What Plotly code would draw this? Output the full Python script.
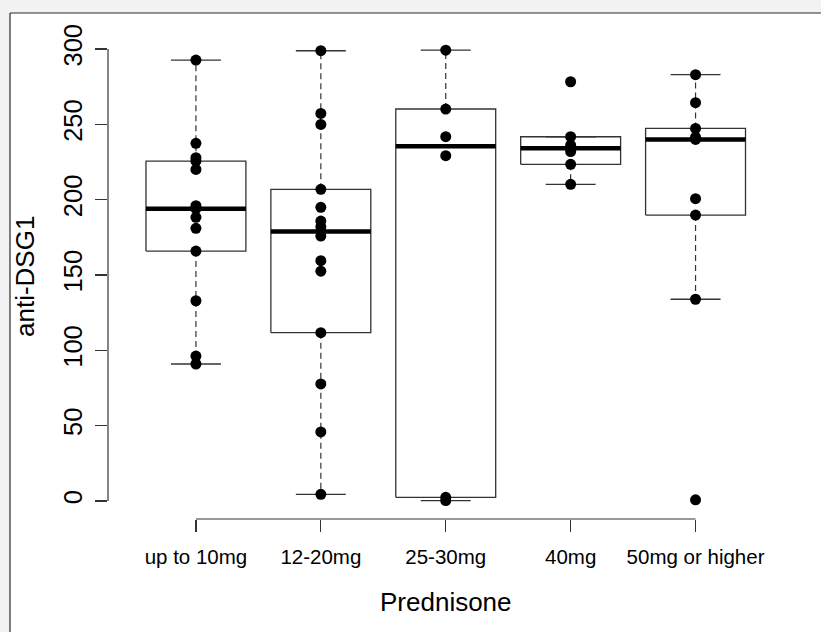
import numpy as np
import plotly.graph_objects as go

# ---------------- data ----------------
categories = ["up to 10mg", "12-20mg", "25-30mg", "40mg", "50mg or higher"]
dose_up_to_10 = [292.7, 237.4, 227.9, 225.6, 220.1, 196.0, 194.0, 188.3, 181.0, 165.9, 132.9, 96.2, 90.9]
dose_12_20 = [298.9, 257.3, 250.0, 206.9, 194.9, 185.8, 182.0, 175.9, 159.5, 152.5, 111.7, 77.7, 45.8, 4.4]
dose_25_30 = [299.3, 260.2, 241.8, 229.2, 2.4, 0.2]
dose_40 = [278.3, 241.8, 236.2, 232.0, 223.5, 210.2]
dose_50_plus = [283.0, 264.4, 247.3, 241.5, 240.0, 200.7, 189.8, 133.9, 0.7]
groups = [dose_up_to_10, dose_12_20, dose_25_30, dose_40, dose_50_plus]
y_ticks = [0, 50, 100, 150, 200, 250, 300]
x_title = "Prednisone"
y_title = "anti-DSG1"

# ---------------- layout geometry (pixels) ----------------
W, H = 821, 632
ML, MR, MT, MB = 108, 63, 31, 113
PW, PH = W - ML - MR, H - MT - MB
FONT = "Liberation Sans, Arial, Helvetica, sans-serif"
LINE = "#333333"
OUTER = "#f2f2f2"


def px_to_paper_x(px):
    return (px - ML) / PW


def px_to_paper_y(py):
    return (H - MB - py) / PH


def tukey_stats(vals):
    v = np.sort(np.asarray(vals, dtype=float))
    n = len(v)
    half = (n + 1) // 2
    q1 = float(np.median(v[:half]))
    q3 = float(np.median(v[n - half:]))
    med = float(np.median(v))
    iqr = q3 - q1
    lo = float(v[v >= q1 - 1.5 * iqr].min())
    hi = float(v[v <= q3 + 1.5 * iqr].max())
    return q1, med, q3, lo, hi


positions = list(range(1, len(categories) + 1))
box_half = 0.4
staple_half = 0.2

fig = go.Figure()

wx, wy, sx, sy, bx, by, mx, my = [], [], [], [], [], [], [], []
for p, vals in zip(positions, groups):
    q1, med, q3, lo, hi = tukey_stats(vals)
    wx += [p, p, None, p, p, None]
    wy += [q3, hi, None, q1, lo, None]
    sx += [p - staple_half, p + staple_half, None, p - staple_half, p + staple_half, None]
    sy += [hi, hi, None, lo, lo, None]
    bx += [p - box_half, p + box_half, p + box_half, p - box_half, p - box_half, None]
    by += [q1, q1, q3, q3, q1, None]
    mx += [p - box_half, p + box_half, None]
    my += [med, med, None]

fig.add_trace(go.Scatter(x=wx, y=wy, mode="lines", hoverinfo="skip",
                         line=dict(color=LINE, width=1.2, dash="6px,4px")))
fig.add_trace(go.Scatter(x=sx, y=sy, mode="lines", hoverinfo="skip",
                         line=dict(color=LINE, width=1.3)))
fig.add_trace(go.Scatter(x=bx, y=by, mode="lines", hoverinfo="skip",
                         line=dict(color=LINE, width=1.3)))
fig.add_trace(go.Scatter(x=mx, y=my, mode="lines", hoverinfo="skip",
                         line=dict(color="black", width=4.5)))

px_all, py_all = [], []
for p, vals in zip(positions, groups):
    px_all += [p] * len(vals)
    py_all += list(vals)
fig.add_trace(go.Scatter(x=px_all, y=py_all, mode="markers",
                         marker=dict(color="black", size=11, line=dict(width=0)),
                         cliponaxis=False))

x_left = positions[0] - (196 - ML) / 125.0
x_right = positions[-1] + 0.5

shapes = [
    dict(type="rect", xref="paper", yref="paper",
         x0=px_to_paper_x(-20), x1=px_to_paper_x(W + 20),
         y0=px_to_paper_y(13), y1=px_to_paper_y(-20),
         fillcolor=OUTER, line=dict(width=0), layer="below"),
    dict(type="rect", xref="paper", yref="paper",
         x0=px_to_paper_x(-20), x1=px_to_paper_x(10),
         y0=px_to_paper_y(H + 20), y1=px_to_paper_y(-20),
         fillcolor=OUTER, line=dict(width=0), layer="below"),
    dict(type="line", xref="paper", yref="paper",
         x0=px_to_paper_x(10), x1=px_to_paper_x(10),
         y0=px_to_paper_y(13), y1=px_to_paper_y(H + 20),
         line=dict(color="#2b2b2b", width=1.2)),
    dict(type="line", xref="paper", yref="paper",
         x0=px_to_paper_x(10), x1=px_to_paper_x(W + 20),
         y0=px_to_paper_y(13), y1=px_to_paper_y(13),
         line=dict(color="#2b2b2b", width=1.2)),
    dict(type="line", xref="x", yref="paper", x0=positions[0], x1=positions[-1],
         y0=0, y1=0, line=dict(color=LINE, width=1.2)),
    dict(type="line", xref="paper", yref="y", x0=0, x1=0,
         y0=y_ticks[0], y1=y_ticks[-1], line=dict(color=LINE, width=1.2)),
]

annotations = [
    dict(text=y_title, xref="paper", yref="paper", x=px_to_paper_x(25), y=px_to_paper_y(277),
         xanchor="center", yanchor="middle", textangle=-90, showarrow=False,
         font=dict(family=FONT, size=26, color="black")),
    dict(text=x_title, xref="x", yref="paper", x=positions[2], y=px_to_paper_y(602),
         xanchor="center", yanchor="middle", showarrow=False,
         font=dict(family=FONT, size=26, color="black")),
]

fig.update_layout(
    width=W, height=H,
    margin=dict(l=ML, r=MR, t=MT, b=MB, pad=0),
    paper_bgcolor="white",
    plot_bgcolor="rgba(0,0,0,0)",
    showlegend=False,
    hovermode=False,
    shapes=shapes,
    annotations=annotations,
    xaxis=dict(range=[x_left, x_right], tickvals=positions, ticktext=categories,
               showgrid=False, zeroline=False, showline=False,
               ticks="outside", ticklen=12, tickwidth=1.2, tickcolor=LINE,
               ticklabelstandoff=7,
               tickfont=dict(family=FONT, size=20.5, color="black")),
    yaxis=dict(range=[-12, 312], tickvals=y_ticks, ticktext=[str(t) for t in y_ticks],
               showgrid=False, zeroline=False, showline=False,
               ticks="outside", ticklen=12, tickwidth=1.2, tickcolor=LINE, tickangle=-90,
               ticklabelstandoff=3,
               tickfont=dict(family=FONT, size=25.5, color="black")),
)

fig.write_html(
    "out.html",
    config={"displayModeBar": False, "staticPlot": True},
    post_script=(
        "var s=document.createElement('style');"
        "s.textContent='::-webkit-scrollbar{display:none;width:0;height:0}"
        "html,body{margin:0;padding:0;overflow:hidden;scrollbar-width:none}';"
        "document.head.appendChild(s);"
        "document.body.style.margin='0';"
    ),
)
